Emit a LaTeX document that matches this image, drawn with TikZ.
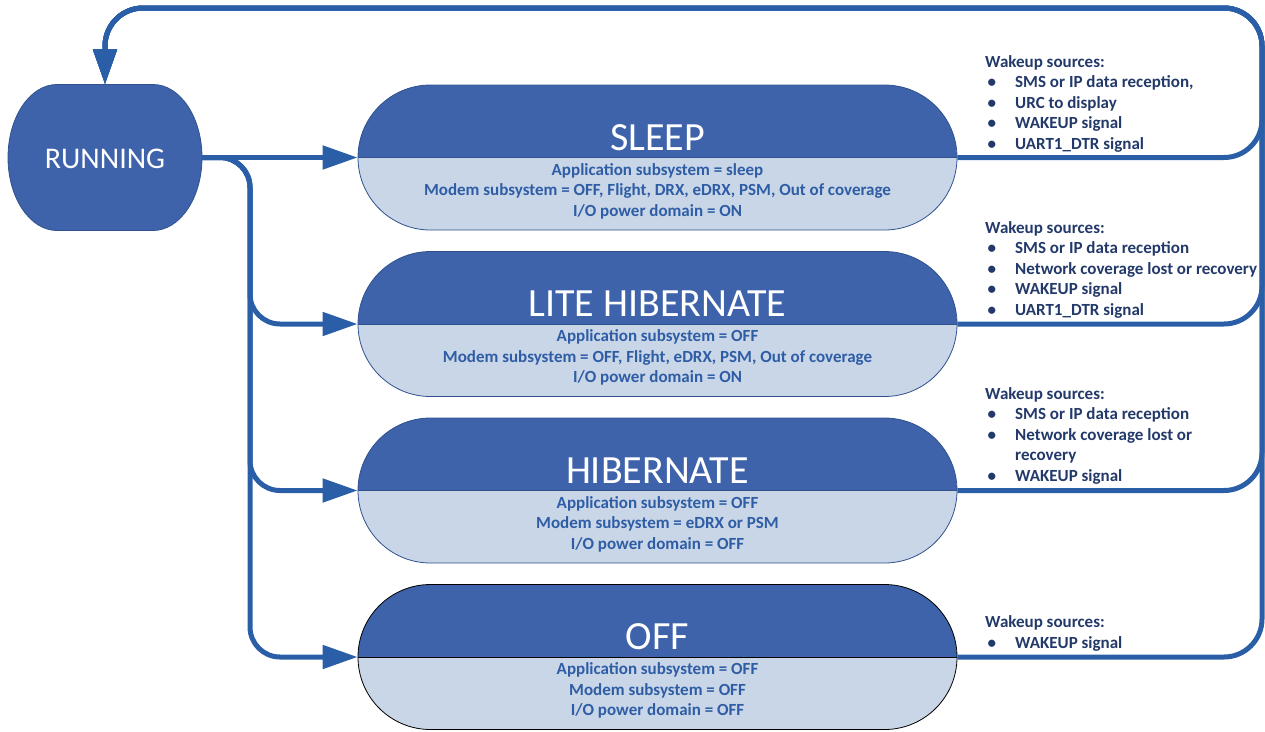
\documentclass[tikz,border=0pt]{standalone}
\usepackage{fontspec}
\setmainfont{Carlito}
\usetikzlibrary{arrows.meta,shapes.misc}

\definecolor{stateDark}{HTML}{3E63AA}
\definecolor{stateLight}{HTML}{C9D6E7}
\definecolor{stateEdge}{HTML}{2F528F}
\definecolor{flow}{HTML}{2A5FA8}
\definecolor{infoText}{HTML}{2E5DA6}
\definecolor{wakeText}{HTML}{22396A}

% bullet with its hanging indent
\newcommand\wkitem{\makebox[30pt][l]{\hspace{2.5pt}•}}

\tikzset{
  state/.style={rounded rectangle, minimum width=599pt, minimum height=145pt,
    inner sep=0pt, draw=stateEdge, line width=0.8pt, fill=stateLight,
    path picture={\fill[stateDark] (path picture bounding box.north west)
      rectangle (path picture bounding box.east);}},
  divider/.style={draw=stateEdge, line width=0.8pt},
  title/.style={text=white, font=\fontsize{40}{48}\selectfont, anchor=base, inner sep=0pt},
  % multi-line nodes: the base anchor sits on the last line
  info/.style={text=infoText, font=\bfseries\fontsize{17}{20.5}\selectfont,
    align=center, anchor=base, inner sep=0pt},
  wake/.style={text=wakeText, font=\bfseries\fontsize{17}{20.5}\selectfont,
    align=left, anchor=base west, inner sep=0pt},
  flowline/.style={draw=flow, line width=5pt, -{Triangle[length=35pt,width=23pt]},
    rounded corners=30pt},
}

\begin{document}
\begin{tikzpicture}[x=1pt,y=1pt]
\useasboundingbox (0,0) rectangle (1265,-731);

% RUNNING state: flat top and bottom, elliptical sides
\filldraw[fill=stateDark, draw=stateEdge, line width=0.8pt]
  (57,-84.5) -- (153,-84.5)
  arc[start angle=90, end angle=-90, x radius=49, y radius=73]
  -- (57,-230.5)
  arc[start angle=270, end angle=90, x radius=49, y radius=73] -- cycle;
\node[minimum width=194pt, minimum height=146pt, inner sep=0pt] (run) at (105,-157.5) {};
\node[text=white, font=\fontsize{30}{36}\selectfont, anchor=base, inner sep=0pt]
  (runlabel) at (105,-168) {RUNNING};

% low-power states
\node[state] (sleep) at (657.5,-157.5) {};
\node[state] (lite)  at (657.5,-324) {};
\node[state] (hib)   at (657.5,-490.5) {};
\node[state, draw=black] (off) at (657.5,-657) {};

\draw[divider] (sleep.west) -- (sleep.east);
\draw[divider] (lite.west) -- (lite.east);
\draw[divider] (hib.west) -- (hib.east);
\draw[divider, draw=black] (off.west) -- (off.east);

\node[title] (sleepT) at (657.5,-150) {SLEEP};
\node[title] (liteT)  at (657.5,-316.5) {LITE HIBERNATE};
\node[title] (hibT)   at (657.5,-483) {HIBERNATE};
\node[title] (offT)   at (657.5,-649.5) {OFF};

\node[info] (sleepI) at (657.5,-216) {Application subsystem = sleep\\
  Modem subsystem = OFF, Flight, DRX, eDRX, PSM, Out of coverage\\
  I/O power domain = ON};
\node[info] (liteI) at (657.5,-382.5) {Application subsystem = OFF\\
  Modem subsystem = OFF, Flight, eDRX, PSM, Out of coverage\\
  I/O power domain = ON};
\node[info] (hibI) at (657.5,-549) {Application subsystem = OFF\\
  Modem subsystem = eDRX or PSM\\
  I/O power domain = OFF};
\node[info] (offI) at (657.5,-715.5) {Application subsystem = OFF\\
  Modem subsystem = OFF\\
  I/O power domain = OFF};

% wakeup sources
\node[wake] (sleepW) at (985,-149) {Wakeup sources:\\
  \wkitem SMS or IP data reception,\\
  \wkitem URC to display\\
  \wkitem WAKEUP signal\\
  \wkitem UART1\_DTR signal};
\node[wake] (liteW) at (985,-315) {Wakeup sources:\\
  \wkitem SMS or IP data reception\\
  \wkitem Network coverage lost or recovery\\
  \wkitem WAKEUP signal\\
  \wkitem UART1\_DTR signal};
\node[wake] (hibW) at (985,-481) {Wakeup sources:\\
  \wkitem SMS or IP data reception\\
  \wkitem Network coverage lost or\\
  \makebox[30pt]{}recovery\\
  \wkitem WAKEUP signal};
\node[wake] (offW) at (985,-648) {Wakeup sources:\\
  \wkitem WAKEUP signal};

% transitions into low-power states
\draw[flowline] (run.east) -- (sleep.west);
\draw[flowline] (run.east) -- (250,-157.5) |- (lite.west);
\draw[flowline] (run.east) -- (250,-157.5) |- (hib.west);
\draw[flowline] (run.east) -- (250,-157.5) |- (off.west);

% wakeup transitions back to RUNNING
\coordinate (top) at (1262,-8);
\draw[flowline, rounded corners=38pt] (sleep.east) -- (1262,-157.5) -- (top) -- (105,-8) -- (run.north);
\draw[flowline, rounded corners=38pt] (lite.east) -- (1262,-324) -- (top) -- (105,-8) -- (run.north);
\draw[flowline, rounded corners=38pt] (hib.east) -- (1262,-490.5) -- (top) -- (105,-8) -- (run.north);
\draw[flowline, rounded corners=38pt] (off.east) -- (1262,-657) -- (top) -- (105,-8) -- (run.north);
\end{tikzpicture}
\end{document}
